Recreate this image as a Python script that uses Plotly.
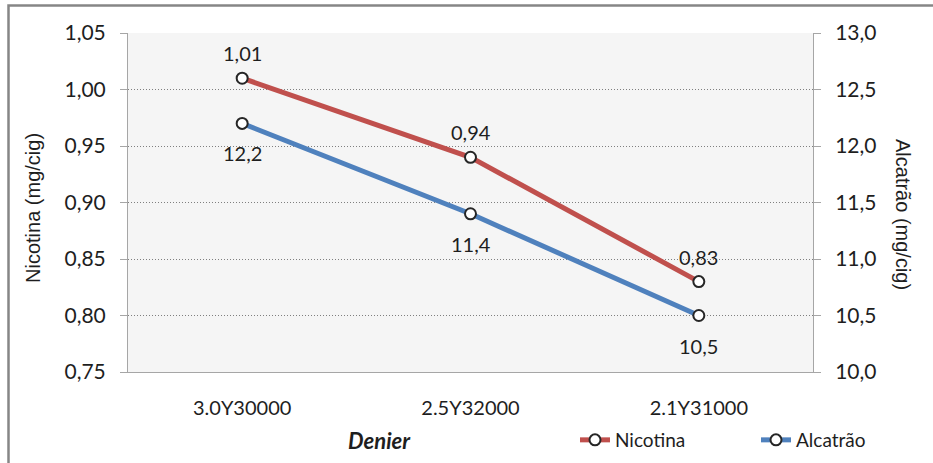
import plotly.graph_objects as go

# Cigarette filter tow (denier) vs. nicotine and tar yields
categories = ["3.0Y30000", "2.5Y32000", "2.1Y31000"]
nicotina = [1.01, 0.94, 0.83]      # mg/cig, left axis
alcatrao = [12.2, 11.4, 10.5]      # mg/cig, right axis

FONT = "Lato"
TITLE_FONT = "Liberation Sans"
RED = "#C0504D"
BLUE = "#4F81BD"
TXT = "#1E1E1E"
AXIS = "#A6A6A6"


def fmt(v, nd):
    return f"{v:.{nd}f}".replace(".", ",")


marker = dict(symbol="circle", size=11, color="white",
              line=dict(color="#262626", width=2))

fig = go.Figure()

fig.add_trace(go.Scatter(
    x=categories, y=nicotina, name="Nicotina", mode="lines+markers",
    line=dict(color=RED, width=5), marker=marker,
    yaxis="y", legend="legend",
))

fig.add_trace(go.Scatter(
    x=categories, y=alcatrao, name="Alcatrão", mode="lines+markers",
    line=dict(color=BLUE, width=5), marker=marker,
    yaxis="y2", legend="legend2",
))

W, H = 933, 463
L, R, T, B = 128, 120, 33, 91
pw, ph = W - L - R, H - T - B

annotations = []
# value labels: nicotine above its points, tar below its points
for c, v in zip(categories, nicotina):
    annotations.append(dict(
        x=c, y=v, xref="x", yref="y", text=fmt(v, 2), showarrow=False,
        yshift=25, font=dict(family=FONT, size=20, color=TXT)))
for c, v in zip(categories, alcatrao):
    annotations.append(dict(
        x=c, y=v, xref="x", yref="y2", text=fmt(v, 1), showarrow=False,
        yshift=-30, font=dict(family=FONT, size=20, color=TXT)))

annotations += [
    dict(text="Nicotina (mg/cig)", xref="paper", yref="paper",
         x=(33 - L) / pw, y=(372 - 208) / ph, textangle=-90, showarrow=False,
         font=dict(family=TITLE_FONT, size=20, color=TXT),
         xanchor="center", yanchor="middle"),
    dict(text="Alcatrão (mg/cig)", xref="paper", yref="paper",
         x=(903 - L) / pw, y=(372 - 214) / ph, textangle=90, showarrow=False,
         font=dict(family=TITLE_FONT, size=20, color=TXT),
         xanchor="center", yanchor="middle"),
    dict(text="<b><i>Denier</i></b>", xref="paper", yref="paper",
         x=(379 - L) / pw, y=(372 - 440) / ph, showarrow=False,
         font=dict(family=FONT, size=22, color=TXT),
         xanchor="center", yanchor="middle"),
]

legend_common = dict(
    orientation="h", xanchor="left", yanchor="middle",
    y=(372 - 440) / ph, font=dict(family=FONT, size=19, color=TXT),
    bgcolor="rgba(0,0,0,0)",
)

fig.update_layout(
    width=W, height=H,
    margin=dict(l=L, r=R, t=T, b=B, autoexpand=False),
    paper_bgcolor="white",
    plot_bgcolor="#F5F5F5",
    separators=", ",
    font=dict(family=FONT, size=19, color=TXT),
    showlegend=True,
    legend=dict(x=(575 - L) / pw, **legend_common),
    legend2=dict(x=(756 - L) / pw, **legend_common),
    xaxis=dict(
        type="category", range=[-0.5, 2.5], showgrid=False,
        showline=True, linecolor=AXIS, linewidth=1,
        ticks="", tickfont=dict(family=FONT, size=20, color=TXT),
        ticklabelstandoff=18,
    ),
    yaxis=dict(
        range=[0.75, 1.05], dtick=0.05, tickformat=".2f",
        showgrid=True, gridcolor="#7F7F7F", griddash="1px,2px", gridwidth=1,
        showline=True, linecolor=AXIS, linewidth=1,
        ticks="outside", ticklen=7, tickcolor=AXIS,
        tickfont=dict(family=FONT, size=21, color=TXT),
        ticklabelstandoff=10, zeroline=False,
    ),
    yaxis2=dict(
        range=[10.0, 13.0], dtick=0.5, tickformat=".1f",
        overlaying="y", side="right",
        showgrid=False, zeroline=False,
        showline=True, linecolor=AXIS, linewidth=1,
        ticks="outside", ticklen=7, tickcolor=AXIS,
        tickfont=dict(family=FONT, size=21, color=TXT),
        ticklabelstandoff=10,
    ),
    shapes=[
        dict(type="rect", xref="paper", yref="paper",
             x0=(8.5 - L) / pw, x1=1.3, y0=-0.4, y1=(H - B - 5.5) / ph,
             line=dict(color="#868686", width=2.5), fillcolor="rgba(0,0,0,0)",
             layer="below"),
    ],
    annotations=annotations,
)

fig.write_html("out.html")
